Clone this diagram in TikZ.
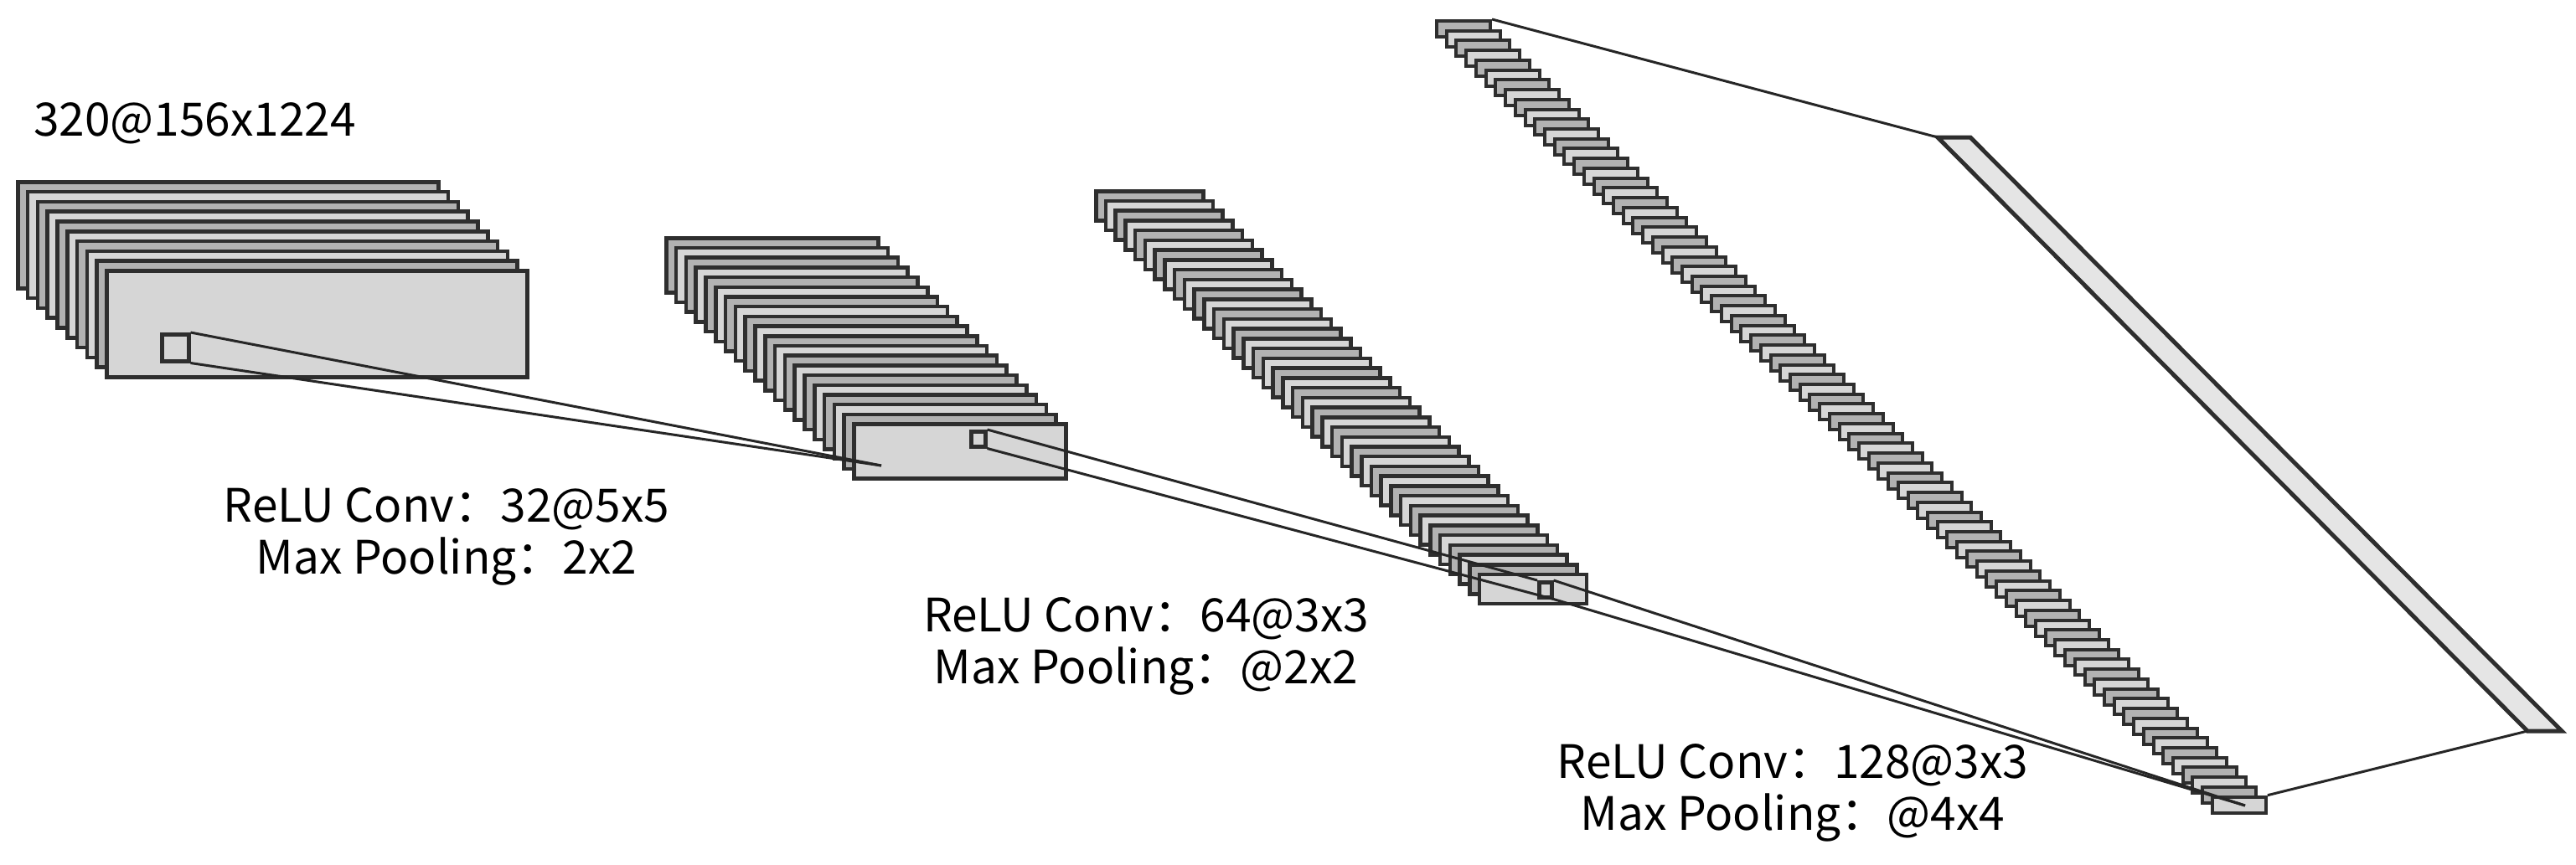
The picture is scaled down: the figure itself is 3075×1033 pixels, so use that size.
\documentclass[tikz,border=0pt]{standalone}
\usepackage{fontspec}
\setmainfont{Noto Sans CJK SC}
\begin{document}
\begin{tikzpicture}[x=1pt,y=-1pt,
  fm/.style={draw=black!82,line width=4.5pt,inner sep=0pt,anchor=north west},
  dk/.style={fill=black!30},
  lt/.style={fill=black!16},
  ln/.style={draw=black!85,line width=3pt},
  lab/.style={font=\fontsize{55}{62}\selectfont,align=center,inner sep=0pt}]
\useasboundingbox (0,0) rectangle (3075,1033);
% stack 1
\foreach \i in {1,...,10}{
  \ifodd\i\tikzset{cur/.style=dk}\else\tikzset{cur/.style=lt}\fi
  \node[fm,cur,minimum width=502pt,minimum height=127pt] (a\i) at ({19+11.8*(\i-1)},{215+11.8*(\i-1)}) {};
}
% stack 2
\foreach \i in {1,...,20}{
  \ifodd\i\tikzset{cur/.style=dk}\else\tikzset{cur/.style=lt}\fi
  \node[fm,cur,minimum width=253pt,minimum height=65pt] (b\i) at ({793+11.8*(\i-1)},{282+11.7*(\i-1)}) {};
}
% stack 3
\foreach \i in {1,...,40}{
  \ifodd\i\tikzset{cur/.style=dk}\else\tikzset{cur/.style=lt}\fi
  \node[fm,cur,minimum width=128pt,minimum height=35pt] (c\i) at ({1306+11.74*(\i-1)},{226+11.74*(\i-1)}) {};
}
% stack 4
\foreach \i in {1,...,80}{
  \ifodd\i\tikzset{cur/.style=dk}\else\tikzset{cur/.style=lt}\fi
  \node[fm,cur,line width=4pt,minimum width=64pt,minimum height=19pt] (e\i) at ({1713+11.72*(\i-1)},{23+11.73*(\i-1)}) {};
}
% kernels
\node[fm,minimum width=32pt,minimum height=32pt] (k1) at (191,397) {};
\node[fm,minimum width=17pt,minimum height=18pt] (k2) at (1157,513) {};
\node[fm,minimum width=15pt,minimum height=18pt] (k3) at (1835,693) {};
% dense layer
\coordinate (d1) at (2313,164);
\coordinate (d2) at (2352,164);
\coordinate (d3) at (3058,873);
\coordinate (d4) at (3017,873);
\draw[draw=black!82,line width=5pt,fill=black!10,line join=miter] (d1) -- (d2) -- (d3) -- (d4) -- cycle;
% connectors
\coordinate (p2) at (1052,556);
\coordinate (p4) at (2680,962);
\draw[ln] (k1.north east) -- (p2);
\draw[ln] (k1.south east) -- (p2);
\draw[ln] (k2.north east) -- (k3.north west);
\draw[ln] (k2.south east) -- (k3.south east);
\draw[ln] (k3.north east) -- (p4);
\draw[ln] (k3.south east) -- (p4);
\draw[ln] (e1.north east) -- (d1);
\draw[ln] (e80.north east) -- (d4);
% labels
\node[lab,anchor=west] (t0) at (40,147) {320@156x1224};
\node[lab] (t1) at (533,641) {ReLU Conv：32@5x5\\Max Pooling：2x2};
\node[lab] (t2) at (1368,772) {ReLU Conv：64@3x3\\Max Pooling：@2x2};
\node[lab] (t3) at (2140,947) {ReLU Conv：128@3x3\\Max Pooling：@4x4};
\end{tikzpicture}
\end{document}
